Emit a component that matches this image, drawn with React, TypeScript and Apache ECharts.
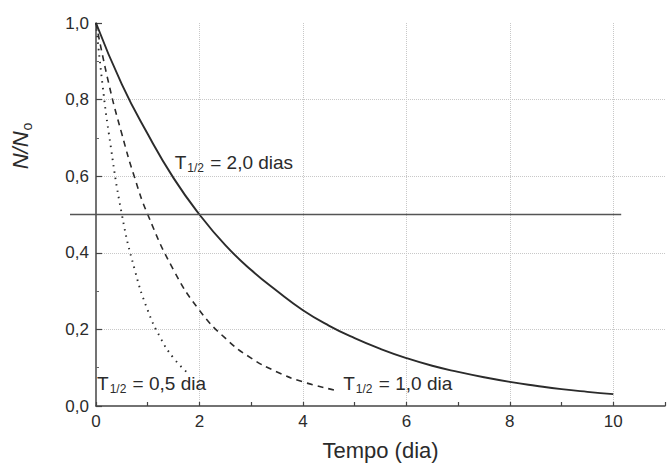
import React, { useEffect, useRef } from "react";
import * as echarts from "echarts";

// Readings from the picture (N/N0 vs time in days)
const solidT = [0, 0.5, 1, 1.5, 2, 2.5, 3, 3.5, 4, 4.5, 5, 5.5, 6, 6.5, 7, 7.5, 8, 8.5, 9, 9.5, 10];
const solidN = [1.0, 0.84, 0.71, 0.595, 0.5, 0.42, 0.355, 0.3, 0.25, 0.21, 0.177, 0.149, 0.125, 0.105, 0.089, 0.075, 0.063, 0.053, 0.044, 0.037, 0.031];

const dashT = [0, 0.25, 0.5, 0.75, 1, 1.5, 2, 2.5, 3, 3.5, 4, 4.6];
const dashN = [1.0, 0.84, 0.71, 0.595, 0.5, 0.355, 0.25, 0.177, 0.125, 0.089, 0.063, 0.042];

const dotT = [0, 0.125, 0.25, 0.5, 0.75, 1, 1.25, 1.5, 1.8];
const dotN = [1.0, 0.84, 0.71, 0.5, 0.355, 0.25, 0.177, 0.125, 0.083];

const halfLineX = [-0.5, 10.1];
const halfLineY = [0.5, 0.5];

const annotations = [
  { x: 1.52, y: 0.637, value: "2,0 dias" },
  { x: 0.02, y: 0.058, value: "0,5 dia" },
  { x: 4.78, y: 0.058, value: "1,0 dia" },
];

const FONT = "'Liberation Sans', Arial, Helvetica, sans-serif";
const INK = "#2b2b2b";
const GRID = "#c8c8c8";

const zip = (xs: number[], ys: number[]) => xs.map((x, i) => [x, ys[i]]);

export default function App() {
  const ref = useRef<HTMLDivElement>(null);
  useEffect(() => {
    if (!ref.current) return;
    const chart = echarts.init(ref.current, undefined, { renderer: "svg" });
    const xSplitColors = Array.from({ length: 12 }, (_, i) =>
      i % 2 === 0 && i >= 2 && i <= 10 ? GRID : "transparent"
    );
    chart.setOption({
      animation: false,
      backgroundColor: "#ffffff",
      grid: [
        { left: 96, right: 0, top: 23, bottom: 62, containLabel: false },
        // same scale, widened to the left so the reference line can start before t = 0
        { left: 70, right: 0, top: 23, bottom: 62, containLabel: false },
      ],
      graphic: [
        {
          type: "text",
          x: 20,
          y: 146,
          rotation: Math.PI / 2,
          style: {
            text: "{it|N/N}{sub|o}",
            align: "center",
            verticalAlign: "middle",
            rich: {
              it: { fontFamily: FONT, fontSize: 22, fontStyle: "italic", fill: INK },
              sub: { fontFamily: FONT, fontSize: 14, fill: INK, padding: [14, 0, 0, 1] },
            },
          },
        },
      ],
      xAxis: [
        {
          type: "value",
          gridIndex: 0,
          min: 0,
          max: 11,
          interval: 1,
          name: "Tempo (dia)",
          nameLocation: "middle",
          nameGap: 33,
          nameTextStyle: { fontFamily: FONT, fontSize: 22, color: INK },
          axisLine: { show: true, lineStyle: { color: "#444", width: 1.5 } },
          axisTick: { show: true, inside: true, length: 4, lineStyle: { color: "#444", width: 1.2 } },
          axisLabel: {
            fontFamily: FONT,
            fontSize: 17,
            color: INK,
            margin: 7,
            formatter: (v: number) => (v % 2 === 0 && v <= 10 ? String(v) : ""),
          },
          splitLine: { show: true, lineStyle: { color: xSplitColors, type: "dotted", width: 1 } },
        },
        {
          type: "value",
          gridIndex: 1,
          min: -0.5,
          max: 11,
          show: false,
          splitLine: { show: false },
        },
      ],
      yAxis: [
        {
          type: "value",
          gridIndex: 0,
          min: 0,
          max: 1,
          interval: 0.2,
          axisLine: { show: true, lineStyle: { color: "#444", width: 1.5 } },
          axisTick: { show: true, inside: true, length: 6, lineStyle: { color: "#444", width: 1.2 } },
          minorTick: { show: true, splitNumber: 2, length: 3, lineStyle: { color: "#666" } },
          axisLabel: {
            fontFamily: FONT,
            fontSize: 17,
            color: INK,
            margin: 7,
            formatter: (v: number) => v.toFixed(1).replace(".", ","),
          },
          splitLine: {
            show: true,
            lineStyle: { color: ["transparent", GRID, GRID, GRID, GRID, "transparent"], type: "dotted", width: 1 },
          },
        },
        {
          type: "value",
          gridIndex: 1,
          min: 0,
          max: 1,
          show: false,
          splitLine: { show: false },
        },
      ],
      series: [
        {
          type: "line",
          xAxisIndex: 0,
          yAxisIndex: 0,
          data: zip(solidT, solidN),
          smooth: true,
          showSymbol: false,
          lineStyle: { color: INK, width: 1.9 },
          markPoint: {
            symbolSize: 0,
            data: annotations.map((a) => ({ coord: [a.x, a.y], value: a.value })),
            label: {
              show: true,
              position: "right",
              distance: 0,
              formatter: (p: any) => `{t|T}{sub|1/2}{t| = ${p.value}}`,
              rich: {
                t: { fontFamily: FONT, fontSize: 19, color: INK },
                sub: { fontFamily: FONT, fontSize: 12, color: INK, padding: [11, 1, 0, 1] },
              },
            },
          },
        },
        {
          type: "line",
          xAxisIndex: 0,
          yAxisIndex: 0,
          data: zip(dashT, dashN),
          smooth: true,
          showSymbol: false,
          lineStyle: { color: INK, width: 1.6, type: [6, 5] },
        },
        {
          type: "line",
          xAxisIndex: 0,
          yAxisIndex: 0,
          data: zip(dotT, dotN),
          smooth: true,
          showSymbol: false,
          lineStyle: { color: INK, width: 1.9, type: [1.5, 5] },
        },
        {
          type: "line",
          xAxisIndex: 1,
          yAxisIndex: 1,
          data: zip(halfLineX, halfLineY),
          showSymbol: false,
          lineStyle: { color: "#555", width: 1.5 },
        },
      ],
    });
    return () => chart.dispose();
  }, []);
  return <div ref={ref} style={{ width: 668, height: 468, position: "fixed", left: 0, top: 0 }} />;
}
